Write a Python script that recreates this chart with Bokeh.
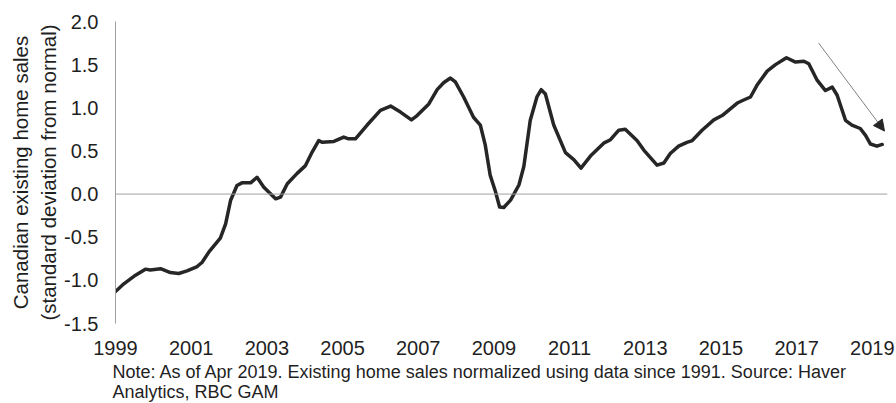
from bokeh.plotting import figure
from bokeh.models import (Span, Arrow, NormalHead, Title, FixedTicker, Range1d,
                          NumeralTickFormatter, ColumnDataSource)
from bokeh.embed import file_html
from bokeh.resources import INLINE

# ---- data ----
dates = [1999.00, 1999.22, 1999.53, 1999.79, 1999.92, 2000.19, 2000.45, 2000.67,
         2000.89, 2001.16, 2001.29, 2001.47, 2001.77, 2001.91, 2002.04, 2002.21,
         2002.34, 2002.57, 2002.74, 2002.92, 2003.23, 2003.36, 2003.54, 2003.80,
         2004.02, 2004.20, 2004.37, 2004.46, 2004.77, 2005.03, 2005.16, 2005.34,
         2005.65, 2006.00, 2006.27, 2006.53, 2006.82, 2006.97, 2007.28, 2007.50,
         2007.67, 2007.85, 2007.98, 2008.20, 2008.46, 2008.64, 2008.77, 2008.90,
         2009.04, 2009.15, 2009.26, 2009.44, 2009.66, 2009.79, 2009.96, 2010.14,
         2010.25, 2010.36, 2010.58, 2010.89, 2011.11, 2011.30, 2011.55, 2011.90,
         2012.08, 2012.30, 2012.47, 2012.78, 2012.96, 2013.31, 2013.49, 2013.66,
         2013.88, 2014.10, 2014.24, 2014.50, 2014.81, 2015.03, 2015.43, 2015.60,
         2015.78, 2015.95, 2016.22, 2016.44, 2016.73, 2016.97, 2017.19, 2017.32,
         2017.54, 2017.76, 2017.94, 2018.07, 2018.29, 2018.46, 2018.68, 2018.82,
         2018.95, 2019.12, 2019.26]
sales_sd = [-1.13, -1.04, -0.94, -0.87, -0.88, -0.865, -0.91, -0.92,
            -0.89, -0.84, -0.79, -0.67, -0.51, -0.345, -0.075, 0.10,
            0.13, 0.13, 0.195, 0.08, -0.055, -0.035, 0.12, 0.24,
            0.33, 0.49, 0.62, 0.60, 0.61, 0.66, 0.64, 0.64,
            0.80, 0.97, 1.02, 0.95, 0.86, 0.91, 1.045, 1.21,
            1.29, 1.345, 1.30, 1.125, 0.89, 0.80, 0.57, 0.22,
            0.03, -0.15, -0.155, -0.07, 0.105, 0.32, 0.855, 1.13,
            1.21, 1.16, 0.80, 0.48, 0.40, 0.30, 0.44, 0.59,
            0.63, 0.74, 0.75, 0.62, 0.51, 0.335, 0.36, 0.47,
            0.555, 0.60, 0.62, 0.74, 0.86, 0.91, 1.055, 1.09,
            1.125, 1.26, 1.425, 1.50, 1.58, 1.53, 1.54, 1.51,
            1.32, 1.20, 1.24, 1.145, 0.855, 0.80, 0.76, 0.68,
            0.58, 0.555, 0.575]
year_ticks = [1999, 2001, 2003, 2005, 2007, 2009, 2011, 2013, 2015, 2017, 2019]
value_ticks = [-1.5, -1.0, -0.5, 0.0, 0.5, 1.0, 1.5, 2.0]
y_title = "Canadian existing home sales\n(standard deviation from normal)"
note_lines = ["Note: As of Apr 2019. Existing home sales normalized using data since 1991. Source: Haver",
              "Analytics, RBC GAM"]

FONT = "Liberation Sans"
TXT = "#1f1f1f"
GRAY = "#a0a0a0"

p = figure(width=896, height=403, x_range=Range1d(1999, 2019.4),
           y_range=Range1d(-1.5, 2.0), output_backend="svg",
           toolbar_location=None, min_border_left=115, min_border_right=9,
           min_border_top=21, min_border_bottom=79)
p.outline_line_color = None
p.grid.visible = False

src = ColumnDataSource(dict(x=dates, y=sales_sd))
p.line("x", "y", source=src, line_color="#262626", line_width=3.5,
       line_join="round", line_cap="round")

p.add_layout(Span(location=0, dimension="width", line_color=GRAY, line_width=1))

# x axis
xa = p.xaxis[0]
xa.ticker = FixedTicker(ticks=year_ticks)
xa.formatter = NumeralTickFormatter(format="0")
xa.axis_line_color = None
xa.major_tick_line_color = None
xa.minor_tick_line_color = None
xa.major_tick_out = 0
xa.major_tick_in = 0
xa.major_label_standoff = 17
xa.major_label_text_font = FONT
xa.major_label_text_font_size = "20px"
xa.major_label_text_color = TXT

# y axis
ya = p.yaxis[0]
ya.ticker = FixedTicker(ticks=value_ticks)
ya.formatter = NumeralTickFormatter(format="0.0")
ya.axis_line_color = GRAY
ya.major_tick_line_color = None
ya.minor_tick_line_color = None
ya.major_tick_out = 0
ya.major_tick_in = 0
ya.major_label_standoff = 17
ya.major_label_text_font = FONT
ya.major_label_text_font_size = "20px"
ya.major_label_text_color = TXT
ya.axis_label = y_title
ya.axis_label_text_font = FONT
ya.axis_label_text_font_size = "20.5px"
ya.axis_label_text_font_style = "normal"
ya.axis_label_text_color = TXT
ya.axis_label_standoff = 1

# arrow annotation
p.add_layout(Arrow(end=NormalHead(size=11, fill_color="#262626", line_color="#262626"),
                   x_start=2017.58, y_start=1.75, x_end=2019.32, y_end=0.73,
                   line_color="#808080", line_width=1))

# note below the axis
note = Title(text="\n".join(note_lines), align="left", standoff=4, offset=-3,
             text_font=FONT, text_font_size="18px", text_font_style="normal",
             text_color=TXT, text_line_height=1.0)
p.add_layout(note, "below")

open("out.html", "w").write(file_html(p, INLINE))
